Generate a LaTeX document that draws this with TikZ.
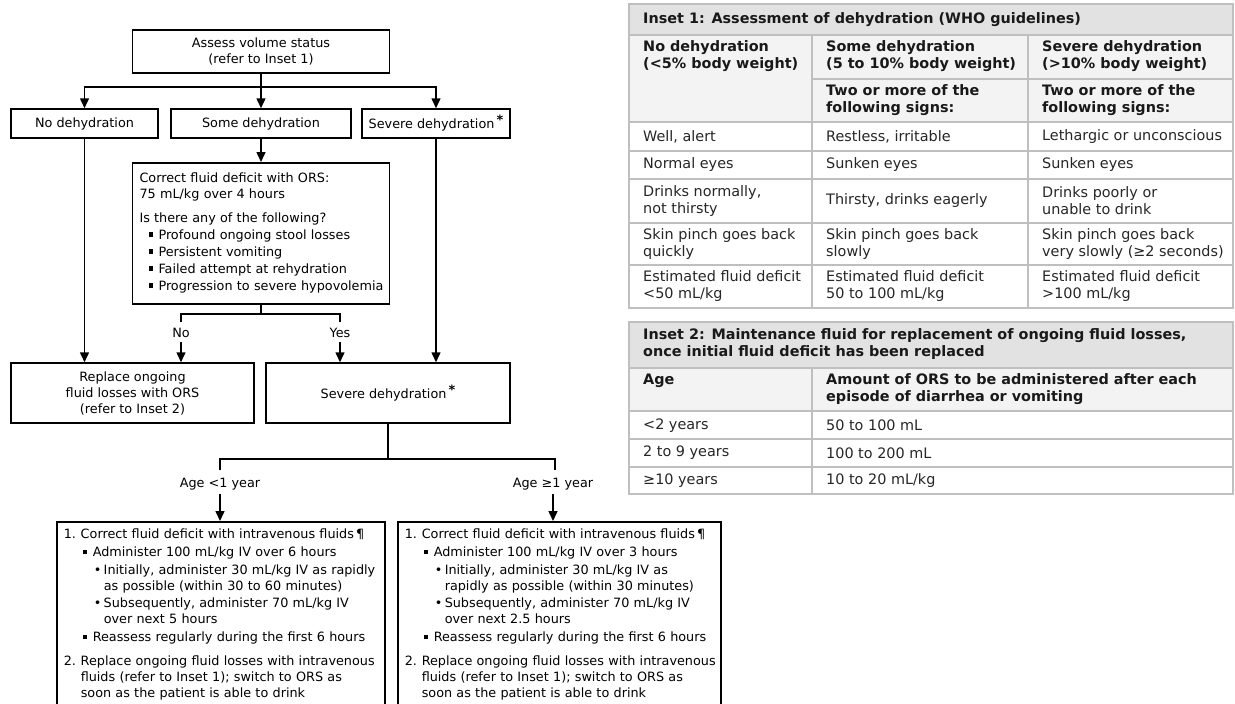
\documentclass[tikz,border=0pt]{standalone}
\usepackage{fontspec}
\setmainfont{DejaVu Sans}
\usetikzlibrary{arrows.meta,positioning}

\newcommand{\flowfont}{\fontsize{12.8}{16}\selectfont}
\newcommand{\tabfont}{\fontsize{14.4}{17}\selectfont}
\newcommand{\sqmark}{\makebox[10pt][l]{\raisebox{2.5pt}{\rule{4.5pt}{4.5pt}}}}
\newcommand{\lvone}{\hspace*{19pt}\sqmark}
\newcommand{\lvtwo}{\hspace*{30pt}\makebox[10pt][l]{•}}
\newcommand{\astmark}{\,\raisebox{4pt}{\bfseries *}}

\tikzset{
  box/.style={draw, line width=1.5pt, inner sep=0pt, align=center, font=\flowfont},
  textbox/.style={draw, line width=1.5pt, inner xsep=7pt, inner ysep=6pt, align=left, font=\flowfont},
  lbl/.style={inner sep=4pt, font=\flowfont},
  arr/.style={line width=1.5pt, -{Triangle[length=10pt,width=9pt]}},
  lnk/.style={line width=1.5pt},
  grid/.style={draw=black!25, line width=1.3pt},
  cell/.style={anchor=west, inner sep=0pt, align=left, font=\tabfont, text=black!85},
  hcell/.style={cell, font=\tabfont\bfseries, text=black!90},
}
\definecolor{ttlgray}{RGB}{226,226,226}
\definecolor{hdrgray}{RGB}{243,243,243}

\begin{document}
\begin{tikzpicture}[x=1pt,y=-1pt]
    \useasboundingbox (0,0) rectangle (1235,704);

    % 流程图：评估
    \node[box, minimum width=257pt, minimum height=43pt] (assess) at (261,51.5) {Assess volume status\\(refer to Inset 1)};
    \node[box, minimum width=147pt, minimum height=29pt] (noh) at (84.5,123.5) {No dehydration};
    \node[box, minimum width=180pt, minimum height=29pt] (someh) at (261,123.5) {Some dehydration};
    \node[box, minimum width=148pt, minimum height=29pt] (sevh) at (436,123.5) {Severe dehydration\astmark};

    \coordinate (s1) at (261,87);
    \draw[lnk] (assess.south) -- (s1);
    \draw[arr] (s1) -| (noh.north);
    \draw[arr] (s1) -- (someh.north);
    \draw[arr] (s1) -| (sevh.north);

    % ORS 补液
    \node[textbox, anchor=north, minimum width=257pt, minimum height=141pt, text width=243pt] (ors) at (261,162) {%
      \begin{tabular}{@{}l@{}}
      Correct fluid deficit with ORS:\\
      75 mL/kg over 4 hours\\[8pt]
      Is there any of the following?\\[1pt]
      \hspace*{9pt}\sqmark Profound ongoing stool losses\\[1pt]
      \hspace*{9pt}\sqmark Persistent vomiting\\[1pt]
      \hspace*{9pt}\sqmark Failed attempt at rehydration\\[1pt]
      \hspace*{9pt}\sqmark Progression to severe hypovolemia
      \end{tabular}};
    \draw[arr] (someh.south) -- (ors.north);

    \coordinate (s2) at (261,314);
    \coordinate (nob) at (181,322);
    \coordinate (yesb) at (340,322);
    \draw[lnk] (ors.south) -- (s2);
    \draw[lnk] (nob) |- (s2) -| (yesb);
    \node[lbl] (no) at (181,333) {No};
    \node[lbl] (yes) at (340,333) {Yes};

    \node[box, minimum width=243pt, minimum height=60pt] (repl) at (132.5,393) {Replace ongoing\\fluid losses with ORS\\(refer to Inset 2)};
    \node[box, minimum width=244pt, minimum height=60pt] (sevb) at (388,393) {Severe dehydration\astmark};

    \draw[arr] (noh.south) -- (noh.south |- repl.north);
    \draw[arr] (no.south) -- (no.south |- repl.north);
    \draw[arr] (yes.south) -- (yes.south |- sevb.north);
    \draw[arr] (sevh.south) -- (sevh.south |- sevb.north);

    % 按年龄分支
    \coordinate (s3) at (388,459);
    \coordinate (yb) at (220,470);
    \coordinate (ob) at (555,470);
    \draw[lnk] (sevb.south) -- (s3);
    \draw[lnk] (yb) |- (s3) -| (ob);
    \node[lbl] (young) at (220,484) {Age <1 year};
    \node[lbl] (old) at (553,484) {Age ≥1 year};

    \node[textbox, anchor=north west, minimum width=328pt, text width=314pt] (iv1) at (56,521) {%
      \begin{tabular}{@{}l@{}}
      \makebox[17pt][l]{1.}Correct fluid deficit with intravenous fluids\,¶\\[2pt]
      \lvone Administer 100 mL/kg IV over 6 hours\\[2pt]
      \lvtwo Initially, administer 30 mL/kg IV as rapidly\\
      \hspace*{40pt}as possible (within 30 to 60 minutes)\\[1pt]
      \lvtwo Subsequently, administer 70 mL/kg IV\\
      \hspace*{40pt}over next 5 hours\\[2pt]
      \lvone Reassess regularly during the first 6 hours\\[8pt]
      \makebox[17pt][l]{2.}Replace ongoing fluid losses with intravenous\\
      \hspace*{17pt}fluids (refer to Inset 1); switch to ORS as\\
      \hspace*{17pt}soon as the patient is able to drink\rule[-34pt]{0pt}{0pt}
      \end{tabular}};
    \node[textbox, anchor=north west, minimum width=323pt, text width=309pt] (iv2) at (397,521) {%
      \begin{tabular}{@{}l@{}}
      \makebox[17pt][l]{1.}Correct fluid deficit with intravenous fluids\,¶\\[2pt]
      \lvone Administer 100 mL/kg IV over 3 hours\\[2pt]
      \lvtwo Initially, administer 30 mL/kg IV as\\
      \hspace*{40pt}rapidly as possible (within 30 minutes)\\[1pt]
      \lvtwo Subsequently, administer 70 mL/kg IV\\
      \hspace*{40pt}over next 2.5 hours\\[2pt]
      \lvone Reassess regularly during the first 6 hours\\[8pt]
      \makebox[17pt][l]{2.}Replace ongoing fluid losses with intravenous\\
      \hspace*{17pt}fluids (refer to Inset 1); switch to ORS as\\
      \hspace*{17pt}soon as the patient is able to drink\rule[-34pt]{0pt}{0pt}
      \end{tabular}};
    \draw[arr] (young.south) -- (young.south |- iv1.north);
    \draw[arr] (old.south) -- (old.south |- iv2.north);

    % Inset 1 表格
    \fill[ttlgray] (629,4) rectangle (1233,35);
    \fill[hdrgray] (629,35) rectangle (1233,122);
    \draw[grid] (629,4) rectangle (1233,308);
    \draw[grid] (629,35) -- (1233,35);
    \draw[grid] (812,35) -- (812,308);
    \draw[grid] (1028,35) -- (1028,308);
    \draw[grid] (812,79) -- (1233,79);
    \foreach \y in {122,151,179,223,265}
        \draw[grid] (629,\y) -- (1233,\y);

    \node[hcell] (ttlA) at (643,20) {Inset 1: Assessment of dehydration (WHO guidelines)};
    \node[hcell] (hdA1) at (643,56.5) {No dehydration\\(<5\% body weight)};
    \node[hcell] (hdA2) at (826,56.5) {Some dehydration\\(5 to 10\% body weight)};
    \node[hcell] (hdA3) at (1042,56.5) {Severe dehydration\\(>10\% body weight)};
    \node[hcell] (sgA2) at (826,100.5) {Two or more of the\\following signs:};
    \node[hcell] (sgA3) at (1042,100.5) {Two or more of the\\following signs:};
    \foreach \y/\a/\b/\c [count=\i] in {
        136.5/{Well, alert}/{Restless, irritable}/{Lethargic or unconscious},
        165/{Normal eyes}/{Sunken eyes}/{Sunken eyes},
        201/{Drinks normally,\\not thirsty}/{Thirsty, drinks eagerly}/{Drinks poorly or\\unable to drink},
        244/{Skin pinch goes back\\quickly}/{Skin pinch goes back\\slowly}/{Skin pinch goes back\\very slowly (≥2 seconds)},
        286/{Estimated fluid deficit\\<50 mL/kg}/{Estimated fluid deficit\\50 to 100 mL/kg}/{Estimated fluid deficit\\>100 mL/kg}}
    {
        \node[cell] (rowA\i c1) at (643,\y) {\a};
        \node[cell] (rowA\i c2) at (826,\y) {\b};
        \node[cell] (rowA\i c3) at (1042,\y) {\c};
    }

    % Inset 2 表格
    \fill[ttlgray] (629,322) rectangle (1233,368);
    \fill[hdrgray] (629,368) rectangle (1233,411);
    \draw[grid] (629,322) rectangle (1233,494);
    \draw[grid] (629,368) -- (1233,368);
    \draw[grid] (812,368) -- (812,494);
    \foreach \y in {411,439,467}
        \draw[grid] (629,\y) -- (1233,\y);

    \node[hcell] (ttlB) at (643,344.5) {Inset 2: Maintenance fluid for replacement of ongoing fluid losses,\\once initial fluid deficit has been replaced};
    \node[hcell] (hdB1) at (643,380.5) {Age};
    \node[hcell] (hdB2) at (826,389) {Amount of ORS to be administered after each\\episode of diarrhea or vomiting};
    \foreach \y/\a/\b [count=\i] in {
        425.5/{<2 years}/{50 to 100 mL},
        453/{2 to 9 years}/{100 to 200 mL},
        481/{≥10 years}/{10 to 20 mL/kg}}
    {
        \node[cell] (rowB\i c1) at (643,\y) {\a};
        \node[cell] (rowB\i c2) at (826,\y) {\b};
    }
\end{tikzpicture}
\end{document}
